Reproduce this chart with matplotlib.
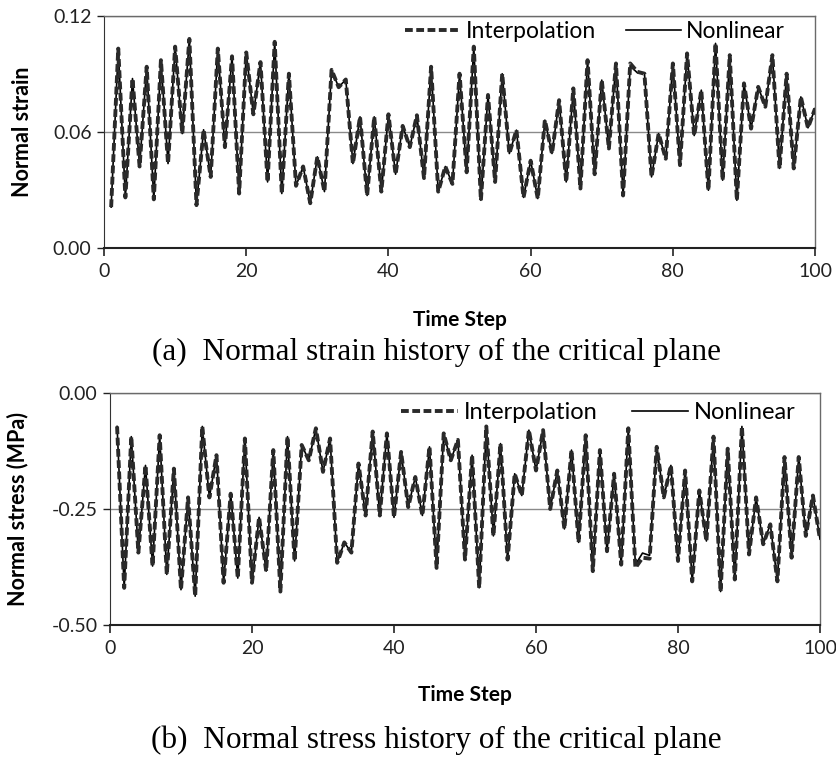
import matplotlib
matplotlib.use("Agg")
import matplotlib.pyplot as plt
import numpy as np

time_step = list(range(1, 101))

strain_interpolation = [
    0.021, 0.103, 0.026, 0.0875, 0.042, 0.0936, 0.025, 0.097, 0.0435, 0.104,
    0.059, 0.108, 0.022, 0.061, 0.0366, 0.103, 0.052, 0.099, 0.028, 0.101,
    0.069, 0.096, 0.034, 0.1065, 0.028, 0.090, 0.032, 0.042, 0.023, 0.047,
    0.029, 0.092, 0.083, 0.087, 0.0435, 0.0677, 0.027, 0.0677, 0.029, 0.069,
    0.038, 0.063, 0.052, 0.0685, 0.036, 0.0936, 0.029, 0.042, 0.033, 0.090,
    0.039, 0.104, 0.0245, 0.079, 0.034, 0.090, 0.0487, 0.0608, 0.026, 0.045,
    0.0254, 0.066, 0.0487, 0.0763, 0.034, 0.0824, 0.0306, 0.097, 0.038, 0.0867,
    0.0513, 0.0953, 0.027, 0.0953, 0.091, 0.090, 0.0366, 0.059, 0.046, 0.0953,
    0.0427, 0.1005, 0.058, 0.0815, 0.0297, 0.1057, 0.0349, 0.0996, 0.0245, 0.085,
    0.0616, 0.0832, 0.0729, 0.0996, 0.041, 0.090, 0.041, 0.078, 0.062, 0.072,
]
strain_nonlinear = list(strain_interpolation)
strain_nonlinear[73] = 0.094
strain_nonlinear[74] = 0.0905
strain_nonlinear[75] = 0.0905

stress_interpolation = [
    -0.072, -0.420, -0.094, -0.344, -0.156, -0.373, -0.091, -0.391, -0.163, -0.424,
    -0.225, -0.438, -0.072, -0.225, -0.134, -0.409, -0.217, -0.399, -0.098, -0.409,
    -0.268, -0.384, -0.123, -0.428, -0.094, -0.362, -0.112, -0.145, -0.076, -0.170,
    -0.098, -0.366, -0.322, -0.344, -0.152, -0.264, -0.083, -0.264, -0.087, -0.268,
    -0.127, -0.246, -0.181, -0.264, -0.116, -0.377, -0.087, -0.145, -0.101, -0.359,
    -0.134, -0.420, -0.072, -0.308, -0.109, -0.359, -0.174, -0.221, -0.080, -0.167,
    -0.080, -0.250, -0.167, -0.293, -0.123, -0.322, -0.091, -0.384, -0.123, -0.341,
    -0.174, -0.370, -0.076, -0.377, -0.355, -0.357, -0.116, -0.225, -0.156, -0.362,
    -0.167, -0.406, -0.210, -0.319, -0.094, -0.428, -0.120, -0.402, -0.072, -0.348,
    -0.225, -0.326, -0.283, -0.406, -0.138, -0.355, -0.138, -0.308, -0.221, -0.315,
]
stress_nonlinear = list(stress_interpolation)
stress_nonlinear[73] = -0.370
stress_nonlinear[74] = -0.345
stress_nonlinear[75] = -0.350

x_ticks = [0, 20, 40, 60, 80, 100]
strain_ticks = [0.00, 0.06, 0.12]
stress_ticks = [-0.50, -0.25, 0.00]

sans = ["Lato", "DejaVu Sans"]
serif = ["Liberation Serif", "DejaVu Serif"]

fig = plt.figure(figsize=(8.37, 7.63), dpi=100)

def style_axes(ax, yticks, ylim, ylabel, ylabel_x, xlabel_y):
    ax.set_xlim(0, 100)
    ax.set_ylim(*ylim)
    ax.set_xticks(x_ticks)
    ax.set_yticks(yticks)
    ax.set_yticklabels([f"{v:.2f}" for v in yticks], family=sans, fontsize=14, color="#222222")
    ax.set_xticklabels([str(v) for v in x_ticks], family=sans, fontsize=14, color="#222222")
    ax.yaxis.grid(True, color="#8a8a8a", lw=1.0)
    ax.set_axisbelow(True)
    for s in ["top", "right"]:
        ax.spines[s].set_color("#6a6a6a")
        ax.spines[s].set_linewidth(1.0)
    ax.spines["left"].set_color("#333333")
    ax.spines["bottom"].set_color("#222222")
    ax.spines["bottom"].set_linewidth(1.5)
    ax.tick_params(axis="x", direction="out", length=6, width=1.2, colors="#222222", pad=5)
    ax.tick_params(axis="y", direction="out", length=5, width=1.0, colors="#222222", pad=4)
    xl = ax.set_xlabel("Time Step", family=sans, fontsize=15, fontweight="bold")
    ax.xaxis.set_label_coords(0.5, xlabel_y)
    xl.set_va("center")
    yl = ax.set_ylabel(ylabel, family=sans, fontsize=15.5, fontweight="bold")
    ax.yaxis.set_label_coords(ylabel_x, 0.5)
    yl.set_va("center")

def draw(ax, y_nl, y_int, anchor, size, colspace):
    ax.plot(time_step, y_nl, color="black", lw=1.2, label="Nonlinear", zorder=3)
    ax.plot(time_step, y_int, color="#2a2a2a", lw=2.8, dashes=(2.0, 0.9),
            label="Interpolation", zorder=4)
    h, l = ax.get_legend_handles_labels()
    ax.legend([h[1], h[0]], [l[1], l[0]], loc="upper right", ncol=2,
              frameon=False, prop={"family": sans, "size": size},
              handlelength=2.4, columnspacing=colspace, handletextpad=0.25,
              bbox_to_anchor=anchor, borderaxespad=0.0, borderpad=0.0)

ax1 = fig.add_axes([0.1243, 0.6754, 0.8495, 0.304])
draw(ax1, strain_nonlinear, strain_interpolation, (0.958, 0.978), 16.5, 1.3)
style_axes(ax1, strain_ticks, (0, 0.12), "Normal strain", -0.115, -0.312)

ax2 = fig.add_axes([0.1314, 0.1809, 0.8483, 0.304])
draw(ax2, stress_nonlinear, stress_interpolation, (0.966, 0.961), 17, 1.45)
style_axes(ax2, stress_ticks, (-0.5, 0.0), "Normal stress (MPa)", -0.130, -0.302)

fig.text(0.5215, 1 - 352 / 763, "(a)  Normal strain history of the critical plane",
         family=serif, fontsize=22.5, ha="center", va="center")
fig.text(0.521, 1 - 740 / 763, "(b)  Normal stress history of the critical plane",
         family=serif, fontsize=22.5, ha="center", va="center")

fig.savefig("out.png", dpi=100)
